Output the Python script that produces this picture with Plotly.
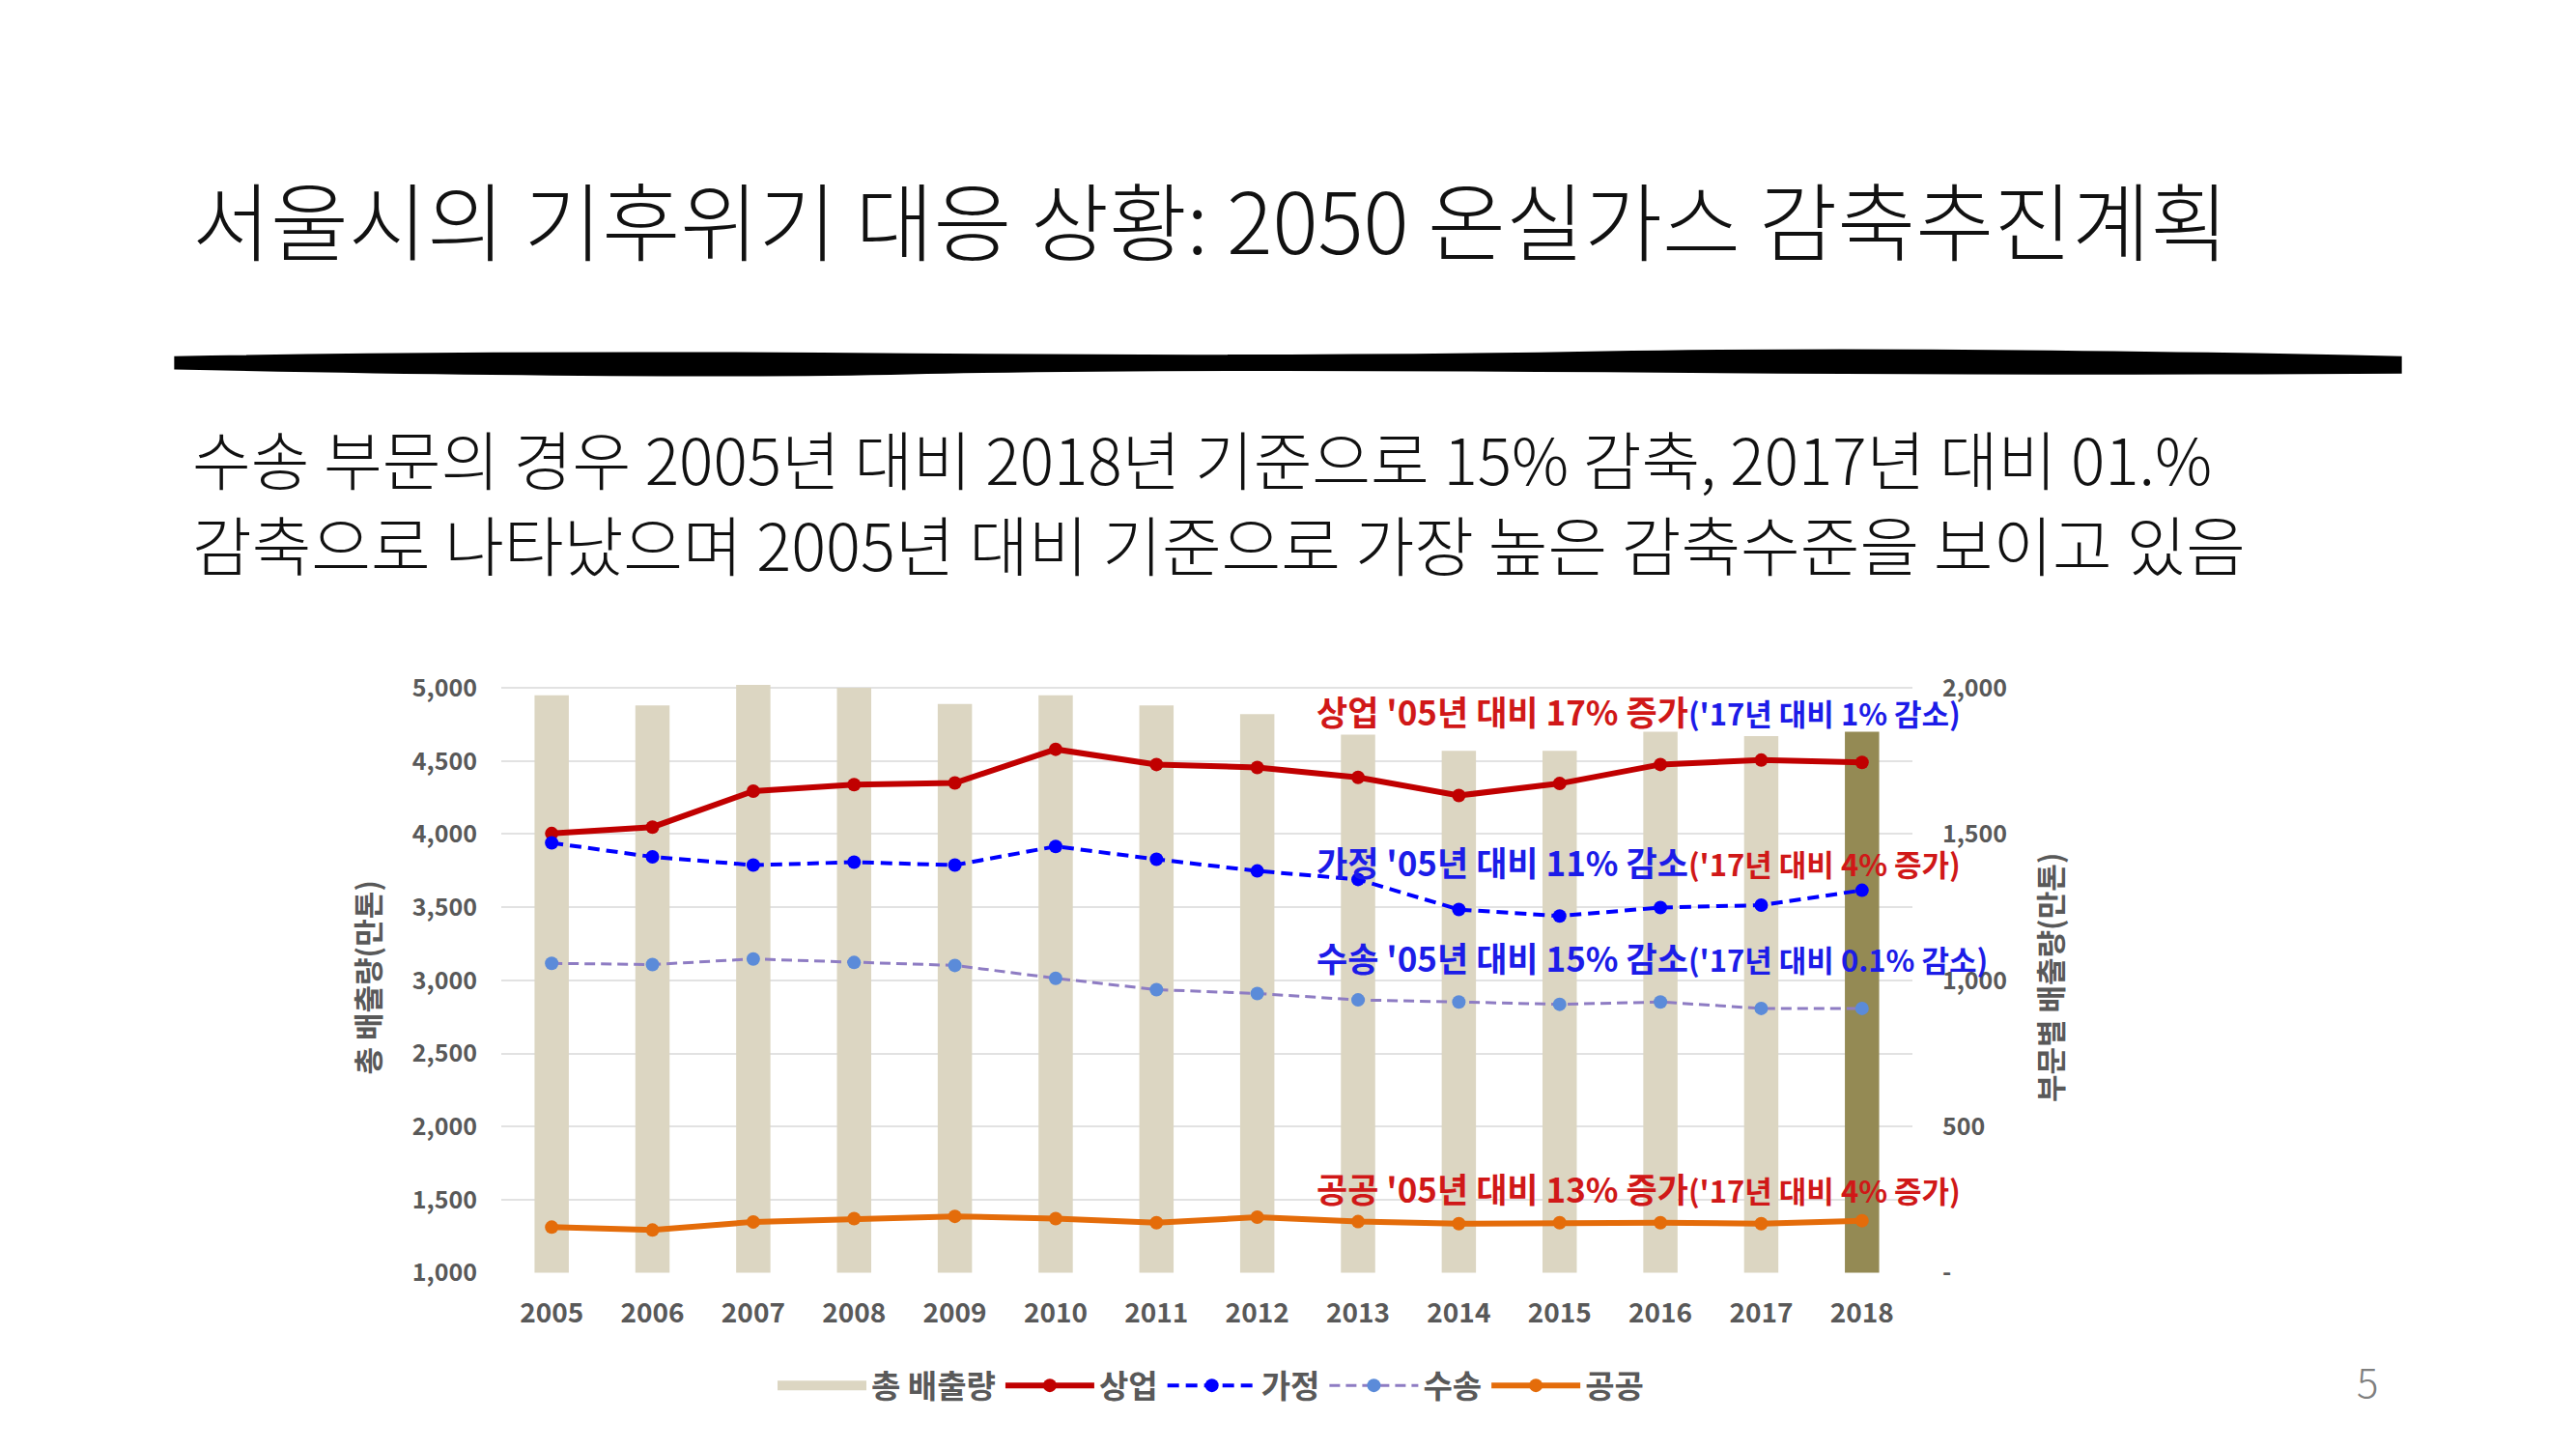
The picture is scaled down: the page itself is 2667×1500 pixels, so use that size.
import plotly.graph_objects as go

years = ['2005', '2006', '2007', '2008', '2009', '2010', '2011',
         '2012', '2013', '2014', '2015', '2016', '2017', '2018']
total = [4950, 4880, 5020, 5000, 4890, 4950, 4880, 4820, 4680, 4570, 4570, 4700, 4670, 4700]
commercial = [1502, 1524, 1647, 1669, 1675, 1790, 1738, 1728, 1694, 1632, 1673, 1738, 1753, 1745]
household = [1470, 1422, 1394, 1404, 1394, 1458, 1414, 1374, 1345, 1242, 1220, 1249, 1257, 1308]
transport = [1058, 1054, 1073, 1061, 1051, 1007, 968, 955, 933, 926, 918, 926, 904, 904]
public = [156, 146, 174, 185, 193, 185, 171, 190, 175, 168, 171, 171, 168, 178]

left_ticks = [1000, 1500, 2000, 2500, 3000, 3500, 4000, 4500, 5000]
left_text = ['1,000', '1,500', '2,000', '2,500', '3,000', '3,500', '4,000', '4,500', '5,000']
right_ticks = [0, 500, 1000, 1500, 2000]
right_text = ['-', '500', '1,000', '1,500', '2,000']

W, H = 2667, 1500
FONT = "Noto Sans CJK KR"
RED = "#d01818"
BLUE = "#1c1ce8"
GREY = "#595959"
BEIGE = "#dcd6c2"

bar_colors = [BEIGE] * (len(years) - 1) + ['#948a54']

fig = go.Figure()
# legend swatch for the bars (wide rectangle like the original)
fig.add_trace(go.Scatter(x=[None], y=[None], mode='lines', name='총 배출량',
                         line=dict(color=BEIGE, width=18), yaxis='y'))
fig.add_trace(go.Bar(x=years, y=total, name='총 배출량', marker_color=bar_colors,
                     marker_line_width=0, yaxis='y', showlegend=False))
fig.add_trace(go.Scatter(x=years, y=commercial, name='상업', mode='lines+markers', yaxis='y2',
                         line=dict(color='#c00000', width=6),
                         marker=dict(color='#c00000', size=14)))
fig.add_trace(go.Scatter(x=years, y=household, name='가정', mode='lines+markers', yaxis='y2',
                         line=dict(color='#0000ff', width=4, dash='12px,7px'),
                         marker=dict(color='#0000ff', size=14)))
fig.add_trace(go.Scatter(x=years, y=transport, name='수송', mode='lines+markers', yaxis='y2',
                         line=dict(color='#8e7cc3', width=3, dash='11px,6px'),
                         marker=dict(color='#5b8bd9', size=14)))
fig.add_trace(go.Scatter(x=years, y=public, name='공공', mode='lines+markers', yaxis='y2',
                         line=dict(color='#e46c0a', width=6),
                         marker=dict(color='#e46c0a', size=14)))

tickfont = dict(family=FONT, size=25, color=GREY, weight='bold')
titlefont = dict(family=FONT, size=31, color=GREY, weight='bold')

fig.update_layout(
    width=W, height=H,
    paper_bgcolor='white', plot_bgcolor='white',
    margin=dict(l=0, r=0, t=0, b=0),
    bargap=0.66,
    showlegend=True,
    legend=dict(orientation='h', x=0.467, xanchor='center', y=1 - 1441 / H, yanchor='middle',
                font=dict(family=FONT, size=33, color=GREY, weight='bold'),
                itemwidth=92, traceorder='normal'),
    xaxis=dict(type='category', range=[-0.5, 13.5], domain=[0.1916, 0.7394],
               showgrid=False, showline=False, ticks='',
               tickfont=dict(family=FONT, size=28, color=GREY, weight='bold'),
               ticklabelstandoff=22),
    yaxis=dict(range=[1000, 5040], domain=[1 - 1322 / H, 1 - 698 / H],
               tickvals=left_ticks, ticktext=left_text,
               showgrid=True, gridcolor='#e2e2e2', gridwidth=2, zeroline=False, showline=False,
               ticks='', tickfont=tickfont, ticklabelstandoff=24,
               title=dict(text='총 배출량(만톤)', font=titlefont, standoff=24)),
    yaxis2=dict(range=[0, 2020], overlaying='y', side='right', tickvals=right_ticks,
                ticktext=right_text, showgrid=False, zeroline=False, showline=False,
                ticks='', tickfont=tickfont, ticklabelstandoff=30,
                title=dict(text='부문별 배출량(만톤)', font=titlefont, standoff=36)),
)

# slide title, brush stroke and body text
fig.add_annotation(text='서울시의 기후위기 대응 상황: 2050 온실가스 감축추진계획',
                   x=189 / W, y=1 - 207 / H, xref='paper', yref='paper',
                   xanchor='left', yanchor='middle', showarrow=False,
                   font=dict(family=FONT, size=88, color='#111111', weight=300))
fig.add_shape(type='path', xref='paper', yref='paper',
              path='M 0.065 0.7635 Q 0.2 0.768 0.35 0.7655 T 0.62 0.767 T 0.929 0.7635 '
                   'L 0.929 0.7525 Q 0.8 0.751 0.62 0.7535 T 0.35 0.752 T 0.065 0.7555 Z',
              fillcolor='black', line=dict(color='black', width=2))
fig.add_annotation(text='수송 부문의 경우 2005년 대비 2018년 기준으로 15% 감축, 2017년 대비 01.%',
                   x=189 / W, y=1 - 460 / H, xref='paper', yref='paper',
                   xanchor='left', yanchor='middle', showarrow=False,
                   font=dict(family=FONT, size=66, color='#111111', weight=300))
fig.add_annotation(text='감축으로 나타났으며 2005년 대비 기준으로 가장 높은 감축수준을 보이고 있음',
                   x=189 / W, y=1 - 551 / H, xref='paper', yref='paper',
                   xanchor='left', yanchor='middle', showarrow=False,
                   font=dict(family=FONT, size=67, color='#111111', weight=300))

# sector notes
notes = [
    ("상업 '05년 대비 17% 증가", RED, "('17년 대비 1% 감소)", BLUE, 728),
    ("가정 '05년 대비 11% 감소", BLUE, "('17년 대비 4% 증가)", RED, 887),
    ("수송 '05년 대비 15% 감소", BLUE, "('17년 대비 0.1% 감소)", BLUE, 988),
    ("공공 '05년 대비 13% 증가", RED, "('17년 대비 4% 증가)", RED, 1232),
]
for main, c1, sub, c2, ypx in notes:
    fig.add_annotation(
        text=f"<span style='color:{c1}'>{main}</span><span style='color:{c2};font-size:31px'>{sub}</span>",
        x=1353 / W, y=1 - ypx / H, xref='paper', yref='paper',
        xanchor='left', yanchor='middle', showarrow=False,
        font=dict(family=FONT, size=35, weight='bold'))

fig.add_annotation(text='5', x=2456 / W, y=1 - 1468 / H, xref='paper', yref='paper',
                   showarrow=False, font=dict(family=FONT, size=42, color='#7f7f7f', weight=300))

fig.write_html("out.html")
